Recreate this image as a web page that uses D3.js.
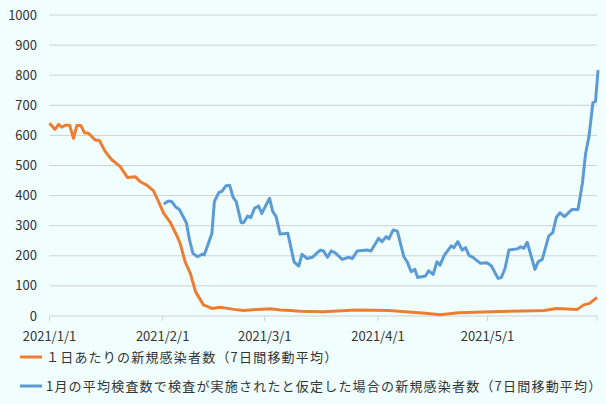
<!DOCTYPE html>
<html><head><meta charset="utf-8">
<script src="https://cdn.jsdelivr.net/npm/d3@7"></script>
<style>body{margin:0;background:#f0fffe}svg{display:block;font-family:"Noto Sans CJK JP",sans-serif}</style>
</head><body>
<svg id="chart" width="606" height="404"></svg>
<script>
// days since 2021/1/1
const orangeDays = [0,1.5,2.5,3.4,4.3,5.5,6.6,7.5,8.6,9.6,10.7,12.5,13.7,15.3,17,19.4,21.4,23.5,24.9,26.7,28.5,29.9,31.3,33,35,35.8,37.2,38.6,40,42.2,44.5,46.8,50.5,53.2,56.9,60.5,63.3,66,68.7,75,84,93,103,107,112,121,130,135.5,139,144.6,146.4,148,150]
const orangeVals = [640,620,637,627,634,634,590,633,633,609,607,585,583,546,520,496,460,463,446,435,416,380,341,313,264,241,180,142,81,37,25,29,22,18,22,24,20,18,16,14,20,18,9,4,11,14,17,18,25,22,37,42,62]
const blueDays = [31.3,32.6,33.5,34.5,35.6,37.5,38.4,39.3,40.6,41.8,42.4,43.4,44.5,45.2,46.4,47.3,48.4,49.4,50.3,51.2,52.5,53.2,54.3,55.2,56.2,57.3,58.2,60.3,61.2,62.1,63.2,65.3,67,68.3,69.2,70.6,72,74.2,75.1,76.2,77.2,78.3,80.2,82,83,84.3,87,88.1,90.2,91.1,92.3,93,94.2,95.3,97.1,98,99.1,100.1,100.9,103,103.9,105.1,106.2,107,108.2,110.1,110.8,111.9,113.1,114,114.9,116.1,118.1,119.9,121.1,122.9,123.8,124.8,125.9,128.2,129.1,130,130.9,132,133,133.9,135,136.8,137.9,138.9,139.9,141.1,143.2,144.8,146,146.9,147.8,148.9,149.6,150.3]
const blueVals = [372,382,380,363,354,310,252,208,197,205,203,236,275,380,410,415,433,434,394,380,310,310,332,327,358,365,341,391,347,330,272,275,180,166,205,191,195,219,216,195,216,210,188,195,191,216,219,216,258,247,264,256,286,282,197,180,147,155,128,133,150,138,180,169,202,233,227,247,219,227,202,194,175,177,166,125,128,158,219,223,230,225,245,197,155,180,188,266,277,328,343,330,354,354,441,540,596,709,712,817]
const xTicks = ["2021/1/1","2021/2/1","2021/3/1","2021/4/1","2021/5/1"]
const yTicks = d3.range(0, 1001, 100)
const legendLabels = ["１日あたりの新規感染者数（7日間移動平均）","1月の平均検査数で検査が実施されたと仮定した場合の新規感染者数（7日間移動平均）"]
const colors = ["#ef7d31","#5b9bd5"]

const svg = d3.select("#chart")
const start = new Date(2021,0,1)
const toDate = d => d3.timeHour.offset(start, d*24)
const x = d3.scaleTime().domain([start, new Date(2021,4,31)]).range([49.5, 597])
const y = d3.scaleLinear().domain([0,1000]).range([316,15])
const parse = d3.timeParse("%Y/%-m/%-d")

svg.append("g").selectAll("line").data(yTicks.slice(1)).join("line")
  .attr("x1",49.5).attr("x2",597).attr("y1",d=>y(d)).attr("y2",d=>y(d))
  .attr("stroke","#d0d0d0").attr("stroke-width",1)
svg.append("line").attr("x1",49.5).attr("x2",597).attr("y1",y(0)).attr("y2",y(0)).attr("stroke","#d0d0d0")
svg.append("g").selectAll("line").data(xTicks.map(parse).concat([new Date(2021,4,31)])).join("line")
  .attr("x1",d=>x(d)).attr("x2",d=>x(d)).attr("y1",316).attr("y2",321).attr("stroke","#d0d0d0")

svg.append("g").selectAll("text").data(yTicks).join("text")
  .attr("x",37).attr("y",d=>y(d)+4.5).attr("text-anchor","end")
  .attr("font-size",13).attr("fill","#333").text(d=>d)
svg.append("g").selectAll("text").data(xTicks).join("text")
  .attr("x",d=>x(parse(d))).attr("y",341).attr("text-anchor","middle")
  .attr("font-size",13).attr("fill","#333").text(d=>d)

const line = d3.line().x(d=>x(toDate(d[0]))).y(d=>y(d[1]))
svg.append("path").datum(d3.zip(orangeDays,orangeVals)).attr("d",line)
  .attr("fill","none").attr("stroke",colors[0]).attr("stroke-width",3).attr("stroke-linejoin","round")
svg.append("path").datum(d3.zip(blueDays,blueVals)).attr("d",line)
  .attr("fill","none").attr("stroke",colors[1]).attr("stroke-width",3).attr("stroke-linejoin","round")

const lg = svg.append("g").selectAll("g").data(legendLabels).join("g")
  .attr("transform",(d,i)=>`translate(0,${357+i*29})`)
lg.append("line").attr("x1",20).attr("x2",42).attr("stroke",(d,i)=>colors[i]).attr("stroke-width",3)
lg.append("text").attr("x",46).attr("y",4.5).attr("font-size",13).attr("letter-spacing",1.2)
  .attr("fill","#333").text(d=>d)
</script>
</body></html>
